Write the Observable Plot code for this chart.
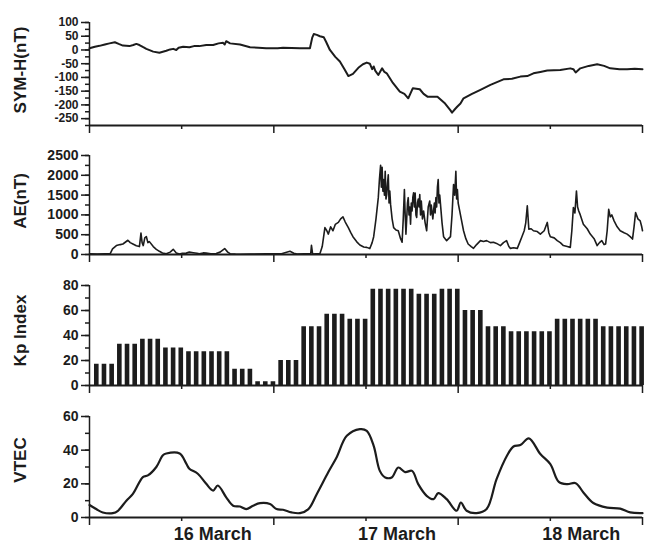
<!DOCTYPE html>
<html><head><meta charset="utf-8">
<script src="https://cdn.jsdelivr.net/npm/d3@7"></script>
<script src="https://cdn.jsdelivr.net/npm/@observablehq/plot@0.6"></script>
<style>
body{margin:0;background:#fff}
#chart{width:646px;height:544px;position:relative;overflow:hidden}
#chart svg{display:block}
</style>
</head><body><div id="chart"></div>
<script>
// Hours since 16 March 00:00 UT
const symHours = [0,0.7,1.3,2.0,2.6,3.3,3.8,4.35,5.2,5.7,6.1,6.5,7.0,7.4,8.3,9.1,10.0,10.5,10.9,11.3,11.6,12.2,13.0,13.6,14.3,15.2,16.1,16.8,17.4,17.6,17.8,18.3,19.6,20.9,22.0,23.0,24.5,25.2,26.3,27.4,28.7,29.0,29.2,29.6,30.0,30.5,30.8,31.3,32.0,32.6,33.2,33.7,34.3,35.0,35.6,36.1,36.5,36.8,37.0,37.2,37.6,38.1,38.4,38.7,39.5,40.4,41.0,41.5,42.1,43.0,43.5,44.0,45.3,46.3,47.0,47.2,47.6,47.9,48.3,48.7,49.8,50.9,52.2,53.9,55.0,56.1,57.0,57.8,58.7,59.6,61.3,62.6,63.0,63.3,63.9,65.0,66.1,67.0,67.8,69.0,70.0,71.0,72.0];
const symValues = [6,12,15,20,24,28,22,16,14,18,22,18,10,4,-6,-10,-3,2,4,0,8,12,10,14,14,18,18,24,26,20,32,24,20,10,8,6,6,8,7,6,6,45,58,55,50,46,30,0,-25,-42,-70,-95,-87,-65,-52,-46,-50,-70,-60,-75,-91,-67,-80,-85,-120,-152,-160,-176,-139,-143,-160,-170,-170,-195,-220,-228,-215,-206,-195,-176,-160,-145,-127,-107,-105,-97,-95,-85,-80,-75,-73,-67,-70,-82,-67,-58,-52,-58,-67,-70,-70,-68,-70];

const aeHours = [0,1.0,2.0,2.7,3.0,3.5,4.0,4.35,5.0,5.3,5.65,6.1,6.5,6.7,6.85,7.0,7.2,7.4,7.6,7.8,8.3,8.7,9.1,9.5,10.0,10.5,10.9,11.3,11.7,12.1,12.6,13.0,13.5,14.0,14.3,14.8,15.2,15.8,16.5,17.0,17.6,18.0,18.3,19.0,19.6,21,23,25,26.1,26.6,27.0,28.0,28.8,28.9,29.05,29.5,30.0,30.3,30.65,30.9,31.1,31.4,31.7,32.0,32.4,32.7,33.0,33.3,33.7,34.0,34.3,34.8,35.2,35.7,36.1,36.5,36.8,37.0,37.3,37.6,37.75,37.9,38.0,38.1,38.2,38.3,38.4,38.5,38.6,38.7,38.8,38.9,39.0,39.1,39.2,39.4,39.6,39.9,40.2,40.5,40.7,40.85,41.0,41.1,41.2,41.3,41.4,41.5,41.6,41.7,41.8,41.9,42.0,42.1,42.2,42.3,42.4,42.5,42.6,42.7,42.8,42.9,43.0,43.1,43.2,43.35,43.5,43.7,43.9,44.0,44.1,44.3,44.4,44.5,44.7,44.8,44.9,45.0,45.1,45.2,45.3,45.4,45.5,45.6,45.7,45.9,46.1,46.5,47.0,47.2,47.4,47.55,47.7,47.8,47.9,48.0,48.2,48.4,48.7,49.0,49.3,49.7,50.0,50.4,50.9,51.3,51.7,52.2,52.6,53.0,53.5,53.9,54.3,54.6,54.8,55.2,55.7,56.0,56.3,56.6,56.8,57.0,57.2,57.5,57.8,58.3,58.7,59.2,59.6,59.8,60.0,60.5,60.9,61.3,61.7,62.2,62.6,62.8,63.0,63.2,63.4,63.55,63.7,63.9,64.3,64.8,65.2,65.7,66.1,66.4,66.7,67.0,67.2,67.4,67.6,67.8,68.0,68.3,68.7,69.1,69.6,70.0,70.4,70.7,70.9,71.1,71.4,71.7,71.9,72.0];
const aeValues = [15,10,15,20,140,225,250,265,360,300,265,220,200,540,300,225,420,455,300,325,200,130,80,40,20,60,130,40,10,30,35,60,45,30,20,40,35,20,25,60,150,60,20,10,5,10,15,20,80,30,10,15,20,230,10,15,20,200,680,600,515,700,600,760,810,900,950,820,680,560,450,320,240,190,180,150,300,450,900,1435,1900,2250,1700,2200,1600,1890,1500,2100,1400,1515,1800,2015,1300,1600,1265,900,680,620,600,400,310,900,1640,1000,515,900,1300,1435,1000,1200,766,1300,1100,1450,1560,1200,1550,1000,935,1300,1400,1200,1515,1000,1350,900,1100,800,600,900,1200,1350,1000,1250,900,1100,1300,1050,1435,1200,1700,1890,1300,1500,1265,800,450,350,450,1000,1765,1500,2100,1400,1640,1300,1100,900,600,400,265,200,155,250,350,330,350,300,310,280,225,300,350,200,155,170,155,300,450,600,800,1230,640,650,600,580,515,600,810,550,450,420,350,300,225,200,180,600,1185,1050,1600,1200,1100,1000,766,650,515,400,225,300,350,250,265,600,1140,950,1000,850,700,600,550,515,450,390,700,1060,900,850,700,600];

// 3-hourly Kp (x10), 16-18 March
const kpValues = [17,33,37,30,27,27,13,3, 20,47,57,53,77,77,73,77, 60,47,43,43,53,53,47,47];

const tecHours = [0,0.87,1.73,3.04,3.7,4.8,5.65,6.95,7.6,8.7,9.56,10.0,11.74,12.6,13.0,14.1,15.2,16.1,16.7,17.8,18.7,19.6,20.4,21.3,22.2,23.5,24.35,25.2,26.3,27.4,28.5,29.6,31.1,32.2,33.5,35.2,36.1,37.0,37.8,38.5,39.35,40.2,41.1,42.0,42.8,43.9,44.8,45.4,46.5,47.8,48.35,49.1,50.4,51.7,53.0,54.35,55.2,56.1,57.2,58.7,60.0,61.1,62.2,63.3,64.3,65.6,67.4,69.1,70.4,72];
const tecValues = [7.4,5,3,2.6,4,10,14,24,25,30,37,38,38,32,29,26,20,16,19,12,7,6.5,5,7,8.5,8,5,4.6,3,2.6,5,14,27,36,48.5,52.5,51.5,42.6,27.7,23.8,23.8,29.7,27,27.7,19.8,12.9,10.9,14.5,10.9,4,8.9,4,2.6,5,22.8,36.7,42.2,43,47,37.7,31.7,21.2,19.8,20.4,14.9,8.6,5.9,5.3,3,2.6];

const dayLabels = ["16 March","17 March","18 March"];
const panelTitles = ["SYM-H(nT)","AE(nT)","Kp Index","VTEC"];

const symData = symHours.map((h,i)=>({h, v: symValues[i]}));
const aeData = aeHours.map((h,i)=>({h, v: aeValues[i]}));
const kpData = d3.range(72).map(i=>({h: i, v: kpValues[Math.floor(i/3)]}));
const tecData = tecHours.map((h,i)=>({h, v: tecValues[i]}));

const ink = "#1c1c1c";
const W = 646, ML = 89, MR = 4;
const fontStyle = {fontFamily: "'Liberation Sans', Arial, sans-serif", fontSize: "14px", fontWeight: "bold", color: ink, background: "#fff", overflow: "visible"};

function frame({yMin, yMajor, yMinor, title, titleDy, tickFont}) {
  return [
    Plot.axisX({ticks: [0,24,48,72], tickSize: 8, tickFormat: () => "", label: null, stroke: ink, strokeWidth: 1.5}),
    Plot.axisX({ticks: [12,36,60], tickSize: 4, tickFormat: () => "", label: null, stroke: ink, strokeWidth: 1.5}),
    Plot.axisY({ticks: yMajor, tickSize: 8, tickPadding: 3, tickFormat: d => String(d), label: null, stroke: ink, strokeWidth: 1.5, fill: ink, fontSize: tickFont}),
    Plot.axisY({ticks: yMinor, tickSize: 4, tickFormat: () => "", label: null, stroke: ink, strokeWidth: 1.5}),
    Plot.ruleY([yMin], {stroke: ink, strokeWidth: 2}),
    Plot.ruleX([0], {stroke: ink, strokeWidth: 1.5}),
    Plot.text([title], {text: d => d, frameAnchor: "left", textAnchor: "middle", lineAnchor: "middle", rotate: -90, dx: -69, dy: titleDy, fontSize: 17, fontWeight: "bold", fill: ink})
  ];
}

const range = (a,b,s) => d3.range(a, b + s/2, s);

const p1 = Plot.plot({
  width: W, height: 137, marginLeft: ML, marginRight: MR, marginTop: 22, marginBottom: 12,
  style: fontStyle,
  x: {domain: [0,72], axis: null},
  y: {domain: [-275,100], axis: null},
  marks: [
    Plot.line(symData, {x: "h", y: "v", stroke: ink, strokeWidth: 2}),
    ...frame({yMin: -275, yMajor: range(-250,100,50), yMinor: range(-275,100,25), title: panelTitles[0], titleDy: -4, tickFont: 12})
  ]
});

const p2 = Plot.plot({
  width: W, height: 131, marginLeft: ML, marginRight: MR, marginTop: 18, marginBottom: 14,
  style: fontStyle,
  x: {domain: [0,72], axis: null},
  y: {domain: [0,2500], axis: null},
  marks: [
    Plot.line(aeData, {x: "h", y: "v", stroke: ink, strokeWidth: 1.6}),
    ...frame({yMin: 0, yMajor: range(0,2500,500), yMinor: range(0,2500,250), title: panelTitles[1], titleDy: -4, tickFont: 14})
  ]
});

const p3 = Plot.plot({
  width: W, height: 130, marginLeft: ML, marginRight: MR, marginTop: 17, marginBottom: 13,
  style: fontStyle,
  x: {domain: [0,72], axis: null},
  y: {domain: [0,80], axis: null},
  marks: [
    Plot.rectY(kpData, {x1: d => d.h + 0.65, x2: d => d.h + 1.25, y: "v", fill: ink}),
    ...frame({yMin: 0, yMajor: range(0,80,20), yMinor: range(0,80,10), title: panelTitles[2], titleDy: -5, tickFont: 14})
  ]
});

const p4 = Plot.plot({
  width: W, height: 146, marginLeft: ML, marginRight: MR, marginTop: 18, marginBottom: 27,
  style: fontStyle,
  x: {domain: [0,72], axis: null},
  y: {domain: [0,60], axis: null},
  marks: [
    Plot.line(tecData, {x: "h", y: "v", stroke: ink, strokeWidth: 2.2, curve: "catmull-rom"}),
    ...frame({yMin: 0, yMajor: range(0,60,20), yMinor: range(0,60,10), title: panelTitles[3], titleDy: -7, tickFont: 14}),
    Plot.axisX({ticks: [12,36,60], tickSize: 0, tickPadding: 10, dx: 31, tickFormat: d => dayLabels[(d-12)/24], label: null, fontSize: 18, fontWeight: "bold", fill: ink})
  ]
});

const chart = document.getElementById("chart");
[p1,p2,p3,p4].forEach(p => chart.appendChild(p));
</script>
</body></html>
